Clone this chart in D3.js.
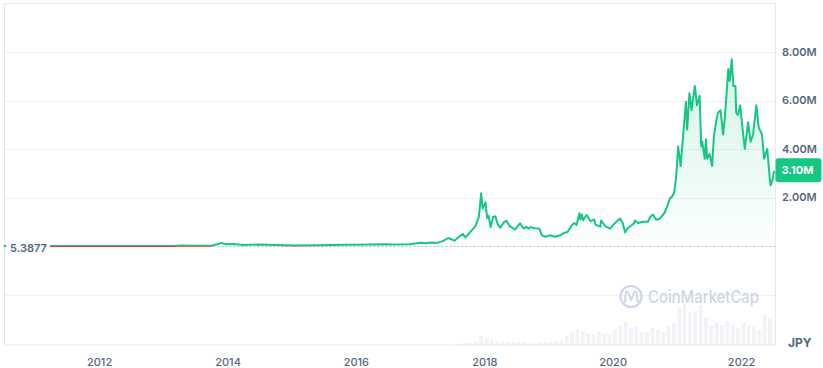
<!DOCTYPE html>
<html>
<head>
<meta charset="utf-8">
<script src="https://cdn.jsdelivr.net/npm/d3@7"></script>
<style>
body { margin: 0; background: #fff; }
text { font-family: Inter, "Noto Sans", sans-serif; }
</style>
</head>
<body>
<svg id="chart"></svg>
<script>
// price history in JPY
var priceDates = ["2011-03-28","2011-06-10","2011-10-01","2012-01-01","2012-06-01","2012-12-01","2013-03-01","2013-04-10","2013-07-01","2013-10-01","2013-11-30","2013-12-20","2014-02-01","2014-04-01","2014-07-01","2014-10-01","2015-01-15","2015-06-01","2015-11-05","2016-01-01","2016-06-15","2016-08-01","2016-11-01","2017-01-04","2017-02-01","2017-03-10","2017-04-01","2017-05-10","2017-06-10","2017-07-15","2017-08-10","2017-09-01","2017-09-15","2017-10-10","2017-11-10","2017-12-01","2017-12-14","2017-12-22","2017-12-30","2018-01-08","2018-01-17","2018-01-25","2018-02-06","2018-02-20","2018-03-05","2018-03-18","2018-04-01","2018-04-25","2018-05-08","2018-05-25","2018-06-25","2018-07-24","2018-08-12","2018-08-28","2018-09-10","2018-09-22","2018-10-15","2018-11-10","2018-11-25","2018-12-15","2019-01-08","2019-02-07","2019-03-05","2019-04-03","2019-04-20","2019-05-14","2019-05-28","2019-06-10","2019-06-26","2019-07-02","2019-07-10","2019-07-17","2019-08-06","2019-08-29","2019-09-18","2019-09-26","2019-10-23","2019-10-27","2019-11-22","2019-12-18","2020-01-15","2020-02-12","2020-02-28","2020-03-12","2020-03-25","2020-04-30","2020-05-08","2020-05-25","2020-06-20","2020-07-20","2020-08-02","2020-08-17","2020-09-05","2020-09-25","2020-10-21","2020-11-05","2020-11-24","2020-12-01","2020-12-16","2020-12-27","2021-01-08","2021-01-22","2021-02-08","2021-02-21","2021-02-28","2021-03-13","2021-03-25","2021-04-13","2021-04-25","2021-05-10","2021-05-19","2021-05-25","2021-06-08","2021-06-15","2021-06-22","2021-07-06","2021-07-20","2021-07-30","2021-08-14","2021-08-23","2021-09-06","2021-09-21","2021-10-01","2021-10-20","2021-10-28","2021-11-09","2021-11-18","2021-11-30","2021-12-04","2021-12-14","2021-12-27","2022-01-10","2022-01-22","2022-02-10","2022-02-24","2022-03-10","2022-03-29","2022-04-11","2022-04-30","2022-05-12","2022-05-30","2022-06-13","2022-06-18","2022-06-28","2022-07-08"]
var priceValues = [5.3877,1500,400,500,500,1100,3000,20000,8000,14000,120000,70000,80000,45000,60000,40000,24000,28000,50000,52000,75000,58000,75000,130000,110000,140000,120000,200000,330000,220000,380000,500000,350000,550000,800000,1200000,2180000,1550000,1650000,1800000,1150000,1250000,780000,1200000,1230000,900000,750000,1000000,1030000,820000,680000,940000,720000,790000,710000,780000,730000,720000,440000,380000,440000,380000,430000,550000,580000,860000,950000,870000,1350000,1100000,1300000,1060000,1280000,1020000,1100000,880000,800000,1050000,810000,720000,950000,1130000,940000,560000,720000,930000,1050000,950000,1000000,1000000,1200000,1300000,1080000,1130000,1350000,1600000,2000000,2000000,2200000,2800000,4100000,3300000,4800000,5950000,4800000,6300000,5600000,6600000,5800000,6200000,4100000,4300000,3600000,4400000,3600000,3800000,3300000,4500000,5200000,5500000,5600000,4600000,5300000,7300000,6800000,7700000,6600000,6600000,5500000,5400000,5800000,4800000,4000000,5100000,4300000,4600000,5800000,4900000,4600000,3600000,4000000,2800000,2500000,2700000,3100000]

// monthly volume, Jul 2017 .. Jun 2022 (relative units)
var volumeStart = "2017-07-01"
var volumeValues = [1,1.5,2,2,3,9, 8,5,4,3,3,2.5,3,3,2.5,2,3,3, 3,4,5,9,13,16,14,11,10,13,11,10, 15,19,24,17,19,13,13,17,15,13,19,22, 38,42,33,34,40,28,19,22,20,24,20,17, 22,19,18,15,30,26]

var priceTicks = [2000000, 4000000, 6000000, 8000000]
var gridTicks = [-2000000, 0, 2000000, 4000000, 6000000, 8000000]
var yearTicks = [2012, 2014, 2016, 2018, 2020, 2022]
var startPrice = 5.3877
var lastPrice = 3100000
var currency = "JPY"

var dimensions = {
    width: 823,
    height: 368,
    plot: { left: 4, right: 775, top: 3.5, bottom: 345 }
}

var green = "#16c784", red = "#ea3943", textColor = "#58667e"

var svg = d3.select("#chart")
    .attr("width", dimensions.width)
    .attr("height", dimensions.height)

var parse = d3.timeParse("%Y-%m-%d")
var data = priceDates.map((d, i) => ({ date: parse(d), value: priceValues[i] }))

var xScale = d3.scaleTime()
    .domain([parse("2010-07-09"), parse("2022-07-13")])
    .range([dimensions.plot.left, dimensions.plot.right])

var yScale = d3.scaleLinear()
    .domain([0, 8000000])
    .range([246, 52])

var baseY = yScale(startPrice)

var defs = svg.append("defs")
var grad = defs.append("linearGradient")
    .attr("id", "fillGrad")
    .attr("gradientUnits", "userSpaceOnUse")
    .attr("x1", 0).attr("x2", 0)
    .attr("y1", yScale(8000000)).attr("y2", baseY)
grad.append("stop").attr("offset", "0%").attr("stop-color", green).attr("stop-opacity", 0.2)
grad.append("stop").attr("offset", "100%").attr("stop-color", green).attr("stop-opacity", 0.01)

defs.append("clipPath").attr("id", "clipUp")
    .append("rect")
    .attr("x", dimensions.plot.left).attr("y", 0)
    .attr("width", dimensions.plot.right - dimensions.plot.left)
    .attr("height", baseY)
defs.append("clipPath").attr("id", "clipDown")
    .append("rect")
    .attr("x", dimensions.plot.left).attr("y", baseY)
    .attr("width", dimensions.plot.right - dimensions.plot.left)
    .attr("height", dimensions.plot.bottom - baseY)
defs.append("clipPath").attr("id", "clipPlot")
    .append("rect")
    .attr("x", dimensions.plot.left).attr("y", dimensions.plot.top)
    .attr("width", dimensions.plot.right - dimensions.plot.left)
    .attr("height", dimensions.plot.bottom - dimensions.plot.top)

// grid
svg.append("g")
    .selectAll("line")
    .data(gridTicks)
    .enter()
    .append("line")
    .attr("x1", dimensions.plot.left)
    .attr("x2", dimensions.plot.right)
    .attr("y1", d => Math.round(yScale(d)) + 0.5)
    .attr("y2", d => Math.round(yScale(d)) + 0.5)
    .attr("stroke", "#eef0f3")

svg.append("rect")
    .attr("x", dimensions.plot.left + 0.5)
    .attr("y", dimensions.plot.top)
    .attr("width", dimensions.plot.right - dimensions.plot.left)
    .attr("height", dimensions.plot.bottom - dimensions.plot.top)
    .attr("fill", "none")
    .attr("stroke", "#e6e8ec")

// volume bars
var months = d3.timeMonth.range(parse(volumeStart), d3.timeMonth.offset(parse(volumeStart), volumeValues.length))
var volScale = d3.scaleLinear()
    .domain([0, d3.max(volumeValues)])
    .range([dimensions.plot.bottom, 303])

svg.append("g")
    .attr("clip-path", "url(#clipPlot)")
    .selectAll("rect")
    .data(volumeValues)
    .enter()
    .append("rect")
    .attr("x", (d, i) => xScale(months[i]) + 0.5)
    .attr("width", (d, i) => xScale(d3.timeMonth.offset(months[i], 1)) - xScale(months[i]) - 1.5)
    .attr("y", d => volScale(d))
    .attr("height", d => dimensions.plot.bottom - volScale(d))
    .attr("fill", "#f1f3f7")

// watermark
var wm = svg.append("g").attr("fill", "none").attr("stroke", "#cfd6e4")
wm.append("circle").attr("cx", 631).attr("cy", 296.5).attr("r", 10.5).attr("stroke-width", 2.2)
wm.append("path")
    .attr("d", "M625 302 L625.5 294 Q627 289 629 294 L631.2 300 L633.5 294 Q635.5 289 637 294 L637.2 300 Q638 303 640 301")
    .attr("stroke-width", 2).attr("stroke-linejoin", "round").attr("stroke-linecap", "round")
svg.append("text")
    .attr("x", 648)
    .attr("y", 297)
    .attr("dy", "0.35em")
    .attr("fill", "#cfd6e4")
    .attr("font-size", 17)
    .attr("font-weight", 500)
    .attr("textLength", 111)
    .attr("lengthAdjust", "spacingAndGlyphs")
    .text("CoinMarketCap")

// area under price
var area = d3.area()
    .x(d => xScale(d.date))
    .y0(baseY)
    .y1(d => yScale(d.value))

svg.append("path")
    .datum(data)
    .attr("clip-path", "url(#clipUp)")
    .attr("d", area)
    .attr("fill", "url(#fillGrad)")

// dotted baseline at first price
svg.append("line")
    .attr("x1", xScale(data[0].date))
    .attr("x2", dimensions.plot.right)
    .attr("y1", baseY + 0.5)
    .attr("y2", baseY + 0.5)
    .attr("stroke", "#9aa3b5")
    .attr("stroke-dasharray", "1 3")

var line = d3.line()
    .x(d => xScale(d.date))
    .y(d => yScale(d.value))

svg.append("path")
    .datum(data)
    .attr("clip-path", "url(#clipDown)")
    .attr("d", line)
    .attr("fill", "none")
    .attr("stroke", red)
    .attr("stroke-width", 2)

svg.append("path")
    .datum(data)
    .attr("clip-path", "url(#clipUp)")
    .attr("d", line)
    .attr("fill", "none")
    .attr("stroke", green)
    .attr("stroke-width", 2)
    .attr("stroke-linejoin", "round")

// start price label
svg.append("circle")
    .attr("cx", 5).attr("cy", baseY)
    .attr("r", 1.3)
    .attr("fill", green)
svg.append("text")
    .attr("x", 10)
    .attr("y", baseY + 2.5)
    .attr("dy", "0.35em")
    .attr("fill", textColor)
    .attr("font-size", 11)
    .attr("font-weight", 600)
    .text(startPrice)

// right axis
var fmt = d => d3.format(".2f")(d / 1000000) + "M"
svg.append("g")
    .selectAll("text")
    .data(priceTicks)
    .enter()
    .append("text")
    .attr("x", 782)
    .attr("y", d => yScale(d))
    .attr("dy", "0.35em")
    .attr("fill", textColor)
    .attr("font-size", 11)
    .attr("font-weight", 600)
    .text(fmt)

// current price tag
var tagY = yScale(lastPrice)
svg.append("rect")
    .attr("x", 775.5)
    .attr("y", tagY - 12.5)
    .attr("width", 46)
    .attr("height", 24)
    .attr("rx", 3)
    .attr("fill", green)
svg.append("text")
    .attr("x", 781.5)
    .attr("y", tagY - 0.5)
    .attr("dy", "0.35em")
    .attr("fill", "#fff")
    .attr("font-size", 11)
    .attr("font-weight", 700)
    .text(fmt(lastPrice))

// bottom axis
var xAxis = svg.append("g")
    .attr("transform", "translate(0,355)")
    .call(d3.axisBottom(xScale)
        .tickValues(yearTicks.map(y => new Date(y, 0, 1)))
        .tickFormat(d3.timeFormat("%Y"))
        .tickSize(0))
xAxis.select(".domain").remove()
xAxis.selectAll("text")
    .attr("fill", textColor)
    .attr("font-size", 11)
    .attr("font-family", "Inter, sans-serif")
    .attr("font-weight", 500)

svg.append("text")
    .attr("x", 788)
    .attr("y", 343)
    .attr("dy", "0.35em")
    .attr("fill", textColor)
    .attr("font-size", 12)
    .attr("font-weight", 700)
    .text(currency)
</script>
</body>
</html>
